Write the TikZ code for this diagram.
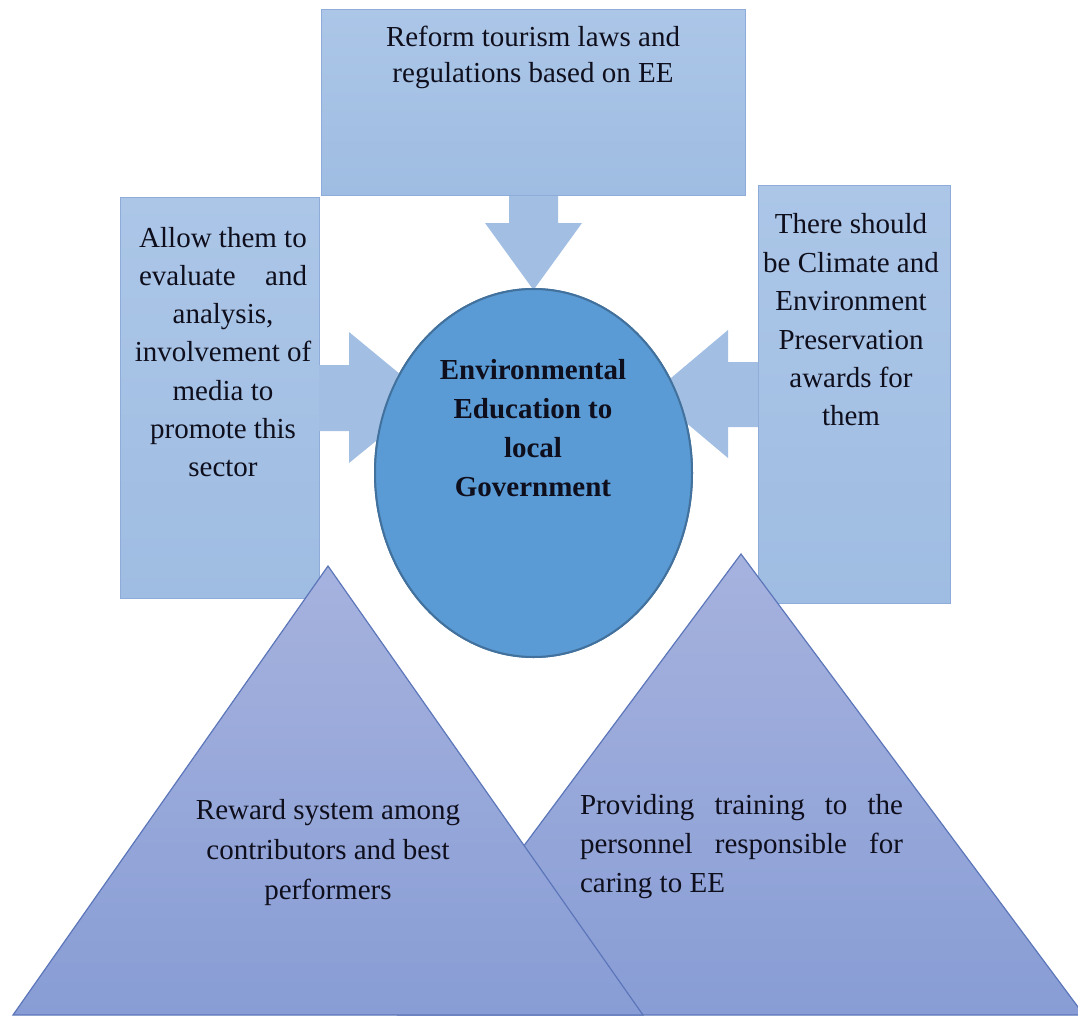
\documentclass[tikz,border=0pt]{standalone}
\usepackage{fontspec}
\setmainfont{Liberation Serif}
\usetikzlibrary{calc,shapes.geometric}
\definecolor{boxtop}{HTML}{ABC6E7}
\definecolor{boxbot}{HTML}{9FBCE2}
\definecolor{boxline}{HTML}{8EABD9}
\definecolor{arrfill}{HTML}{A2BFE3}
\definecolor{ellfill}{HTML}{5B9BD5}
\definecolor{ellline}{HTML}{41719C}
\definecolor{tritop}{HTML}{A6B2DE}
\definecolor{tribot}{HTML}{889DD5}
\definecolor{triline}{HTML}{5C76BA}
\definecolor{txt}{HTML}{0E0E1C}
\begin{document}
\begin{tikzpicture}[x=1pt,y=-1pt,
  boxst/.style={draw=boxline, line width=1pt, top color=boxtop, bottom color=boxbot, rectangle, inner sep=0pt, outer sep=0pt},
  arrst/.style={fill=arrfill, draw=none},
  trist/.style={draw=triline, line width=1.2pt, top color=tritop, bottom color=tribot},
  lbl/.style={text=txt, inner sep=0pt, font=\fontsize{29}{37}\selectfont},
  ellst/.style={ellipse, draw=ellline, line width=2pt, fill=ellfill, inner sep=0pt}
]
\useasboundingbox (0,0) rectangle (1078,1017);
\fill[white] (0,0) rectangle (1078,1017);

% top box and down arrow
\node[boxst, minimum width=424pt, minimum height=186pt] (topbox) at (533,102) {};
\node[ellst, minimum width=317pt, minimum height=368pt] (ell) at (533.5,473) {};
\fill[arrst] ($(topbox.south)+(-24,-1)$) -- ($(topbox.south)+(25,-1)$) -- ($(topbox.south)+(25,28)$)
  -- ($(topbox.south)+(49,28)$) -- ($(ell.north)+(0,2)$) -- ($(topbox.south)+(-48,28)$)
  -- ($(topbox.south)+(-24,28)$) -- cycle;
\node[boxst, minimum width=424pt, minimum height=186pt] at (topbox) {};

% left box and arrow
\node[boxst, minimum width=199pt, minimum height=401pt] (leftbox) at (219.5,397.5) {};
\coordinate (ltip) at (429,398);
\fill[arrst] (319,365) -- (349,365) -- (349,332) -- (ltip) -- (349,463) -- (349,431) -- (319,431) -- cycle;

% right box and arrow
\node[boxst, minimum width=192pt, minimum height=418pt] (rightbox) at (854,394) {};
\coordinate (rtip) at (652,394);
\fill[arrst] (758,362) -- (728,362) -- (728,330) -- (rtip) -- (728,458) -- (728,427) -- (758,427) -- cycle;

% ellipse on top of arrows
\node[ellst, minimum width=317pt, minimum height=368pt] at (ell) {};

% triangles
\coordinate (rA) at (741,554);
\coordinate (rL) at (398,1015);
\coordinate (rR) at (1084,1015);
\path[trist] (rA) -- (rR) -- (rL) -- cycle;
\coordinate (lA) at (328,566);
\coordinate (lL) at (13,1015);
\coordinate (lR) at (643,1015);
\path[trist] (lA) -- (lR) -- (lL) -- cycle;

% texts
\node[lbl, align=center, font=\fontsize{29}{36}\selectfont] (toptext) at (533,57) {Reform tourism laws and\\regulations based on EE};
\node[lbl, align=center, font=\fontsize{29}{38.3}\selectfont] (lefttext) at (223,352) {Allow them to\\\makebox[168pt][s]{evaluate and}\\analysis,\\involvement of\\media to\\promote this\\sector};
\node[lbl, align=center, font=\fontsize{29}{38.4}\selectfont] (righttext) at (851,320) {There should\\be Climate and\\Environment\\Preservation\\awards for\\them};
\node[lbl, align=center, font=\fontsize{29}{39}\selectfont\bfseries] (elltext) at (533,428.5) {Environmental\\Education to\\local\\Government};
\node[lbl, align=center, font=\fontsize{29}{40}\selectfont] (ltritext) at (328,853) {Reward system among\\contributors and best\\performers};
\node[lbl, align=left, font=\fontsize{29}{39}\selectfont] (rtritext) at (741.5,847) {\makebox[323pt][s]{Providing training to the}\\\makebox[323pt][s]{personnel responsible for}\\caring to EE};
\end{tikzpicture}
\end{document}
